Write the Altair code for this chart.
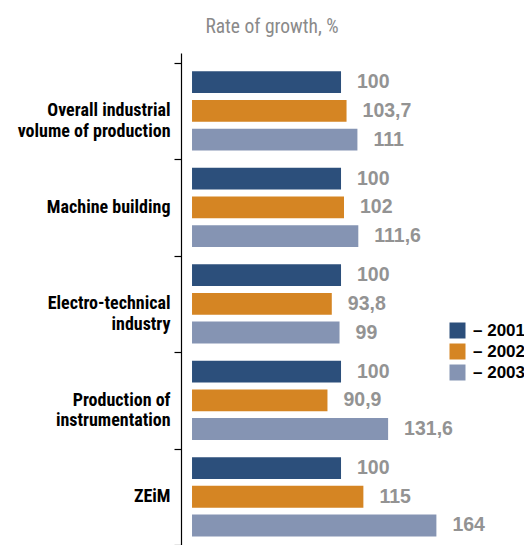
import altair as alt
import pandas as pd

categories = [
    "Overall industrial|volume of production",
    "Machine building",
    "Electro-technical|industry",
    "Production of|instrumentation",
    "ZEiM",
]
years = ["2001", "2002", "2003"]
v2001 = [100, 100, 100, 100, 100]
v2002 = [103.7, 102, 93.8, 90.9, 115]
v2003 = [111, 111.6, 99, 131.6, 164]
colors = ["#2c4f7b", "#d58523", "#8594b3"]

rows = []
for yr, vals in zip(years, [v2001, v2002, v2003]):
    for c, v in zip(categories, vals):
        rows.append({"cat": c, "year": yr, "value": v,
                     "label": f"{v:g}".replace(".", ",")})
df = pd.DataFrame(rows)

NARROW = "Liberation Sans Narrow, Roboto Condensed, Arial Narrow, Liberation Sans, sans-serif"
WIDE = "Liberation Sans, Arial, sans-serif"

y_enc = alt.Y(
    "cat:N", sort=categories, title=None,
    scale=alt.Scale(paddingInner=0, paddingOuter=0.05, align=1),
    axis=alt.Axis(
        tickBand="extent", tickSize=7, tickColor="#000", tickWidth=1.2,
        domainColor="#000", domainWidth=1.2,
        labelPadding=4, labelFont=NARROW, labelFontSize=18, labelFontWeight="bold",
        labelColor="#000", labelLineHeight=20.5, labelLimit=200,
        labelExpr="split(datum.label, '|')",
    ),
)
yoff = alt.YOffset("year:N", sort=years,
                   scale=alt.Scale(paddingInner=0.24, paddingOuter=0.3))
x_enc = alt.X("value:Q", axis=None,
              scale=alt.Scale(domain=[-7.4, 222.8], nice=False, zero=False))

base = alt.Chart(df).encode(y=y_enc, yOffset=yoff, x=x_enc)

bars = base.mark_bar().encode(
    color=alt.Color(
        "year:N", sort=years, scale=alt.Scale(domain=years, range=colors),
        legend=alt.Legend(
            title=None, orient="none", legendX=268, legendY=269,
            symbolType="square", symbolSize=256, symbolStrokeWidth=0, symbolOpacity=1,
            labelFont=WIDE, labelFontSize=17, labelFontWeight="bold", labelColor="#000",
            labelOffset=7, rowPadding=3, padding=0,
            labelExpr="'– ' + datum.label",
        ),
    )
)

texts = base.mark_text(
    align="left", baseline="middle", dx=16, font=WIDE, fontSize=19.5,
    fontWeight="bold", color="#939393",
).encode(text="label:N")

chart = (
    alt.layer(bars, texts)
    .properties(
        width=343, height=492,
        autosize=alt.AutoSizeParams(type="none"),
        padding={"left": 173, "top": 45, "right": 0, "bottom": 0},
        title=alt.TitleParams(
            "Rate of growth, %", anchor="middle", frame="group", dx=-80.5,
            offset=7, font=NARROW, fontSize=19.5, fontWeight="normal", color="#8a8a8a",
        ),
    )
    .configure_view(stroke=None)
)

chart.save("out.html", embed_options={"renderer": "svg", "actions": False})
